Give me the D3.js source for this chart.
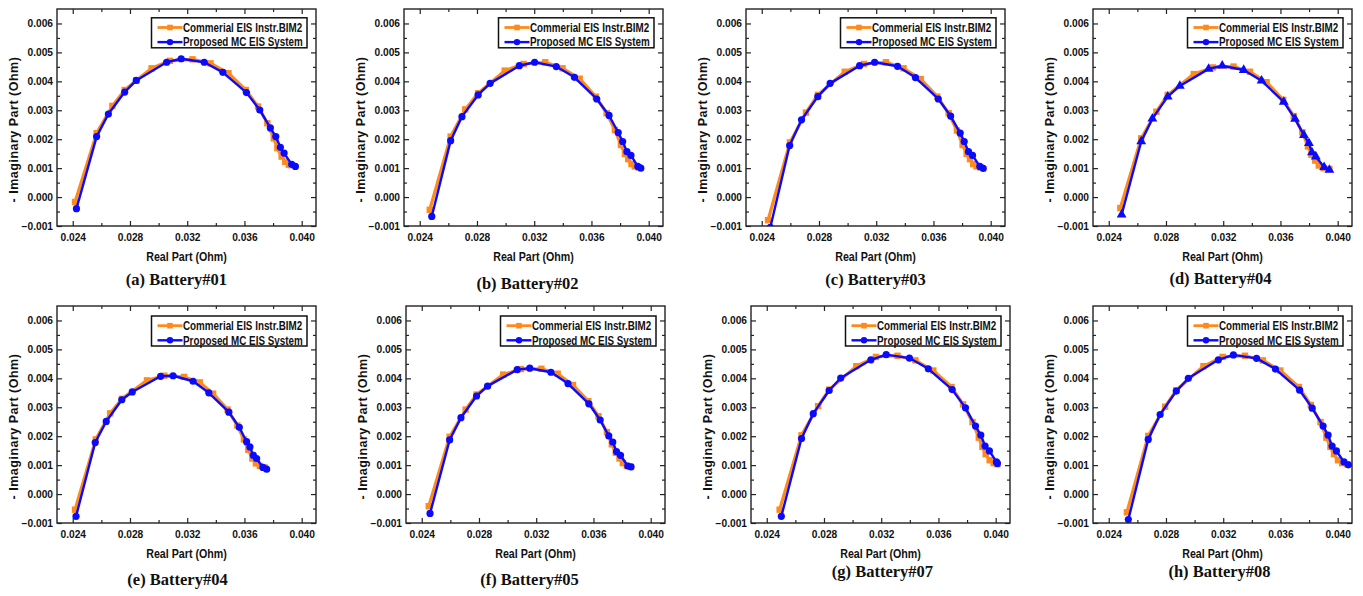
<!DOCTYPE html>
<html><head><meta charset="utf-8">
<script src="https://cdn.jsdelivr.net/npm/d3@7"></script>
<style>body{margin:0;background:#fff}svg{display:block}</style>
</head><body>
<svg id="chart" width="1363" height="596"></svg>
<script>
const xTicks = [0.024, 0.028, 0.032, 0.036, 0.040];
const xMinor = [0.026, 0.030, 0.034, 0.038];
const yTicks = [-0.001, 0.000, 0.001, 0.002, 0.003, 0.004, 0.005, 0.006];
const yMinor = [-0.0005, 0.0005, 0.0015, 0.0025, 0.0035, 0.0045, 0.0055];
const seriesNames = ["Commerial EIS Instr.BIM2", "Proposed MC EIS System"];
const panelLabels = ["(a) Battery#01","(b) Battery#02","(c) Battery#03","(d) Battery#04","(e) Battery#04","(f) Battery#05","(g) Battery#07","(h) Battery#08"];
const xTitle = "Real Part (Ohm)";
const yTitle = "- Imaginary Part (Ohm)";

const commA = [[0.02416,-0.00017],[0.02567,0.00221],[0.02677,0.00315],[0.02763,0.00370],[0.02844,0.00403],[0.02951,0.00445],[0.03079,0.00471],[0.03237,0.00476],[0.03363,0.00462],[0.03488,0.00428],[0.03609,0.00370],[0.03695,0.00313],[0.03760,0.00255],[0.03805,0.00203],[0.03830,0.00169],[0.03860,0.00140],[0.03885,0.00122],[0.03910,0.00112],[0.03928,0.00110]];
const propA = [[0.02426,-0.00040],[0.02567,0.00209],[0.02649,0.00287],[0.02763,0.00363],[0.02844,0.00403],[0.03056,0.00466],[0.03158,0.00478],[0.03319,0.00466],[0.03449,0.00431],[0.03614,0.00361],[0.03707,0.00301],[0.03781,0.00239],[0.03819,0.00209],[0.03851,0.00172],[0.03877,0.00152],[0.03930,0.00113],[0.03956,0.00106]];
const commB = [[0.02470,-0.00044],[0.02616,0.00209],[0.02718,0.00303],[0.02808,0.00359],[0.02994,0.00437],[0.03126,0.00460],[0.03277,0.00466],[0.03398,0.00445],[0.03518,0.00409],[0.03630,0.00347],[0.03706,0.00290],[0.03764,0.00232],[0.03806,0.00180],[0.03834,0.00149],[0.03857,0.00131],[0.03880,0.00114],[0.03903,0.00106],[0.03931,0.00102]];
const propB = [[0.02484,-0.00067],[0.02616,0.00195],[0.02695,0.00278],[0.02808,0.00353],[0.02892,0.00393],[0.03096,0.00454],[0.03203,0.00466],[0.03354,0.00451],[0.03481,0.00414],[0.03637,0.00339],[0.03723,0.00282],[0.03787,0.00223],[0.03818,0.00192],[0.03848,0.00157],[0.03876,0.00144],[0.03924,0.00106],[0.03945,0.00100]];
const commC = [[0.02444,-0.00080],[0.02597,0.00189],[0.02709,0.00292],[0.02792,0.00353],[0.02980,0.00433],[0.03115,0.00460],[0.03268,0.00466],[0.03391,0.00445],[0.03511,0.00408],[0.03627,0.00347],[0.03706,0.00290],[0.03764,0.00230],[0.03804,0.00180],[0.03832,0.00149],[0.03855,0.00131],[0.03878,0.00114],[0.03901,0.00106],[0.03929,0.00102]];
const propC = [[0.02460,-0.00105],[0.02595,0.00178],[0.02678,0.00267],[0.02792,0.00347],[0.02878,0.00393],[0.03084,0.00454],[0.03189,0.00466],[0.03349,0.00452],[0.03474,0.00413],[0.03634,0.00339],[0.03720,0.00280],[0.03787,0.00221],[0.03815,0.00192],[0.03845,0.00157],[0.03873,0.00144],[0.03924,0.00106],[0.03948,0.00099]];
const commD = [[0.02481,-0.00038],[0.02627,0.00203],[0.02733,0.00295],[0.02812,0.00353],[0.02994,0.00425],[0.03128,0.00448],[0.03272,0.00451],[0.03387,0.00433],[0.03503,0.00397],[0.03619,0.00336],[0.03693,0.00280],[0.03753,0.00224],[0.03792,0.00175],[0.03817,0.00146],[0.03843,0.00126],[0.03868,0.00109],[0.03901,0.00100],[0.03942,0.00097]];
const propD = [[0.02490,-0.00061],[0.02627,0.00192],[0.02705,0.00271],[0.02812,0.00347],[0.02897,0.00384],[0.03098,0.00443],[0.03193,0.00454],[0.03343,0.00439],[0.03468,0.00402],[0.03623,0.00329],[0.03702,0.00270],[0.03764,0.00214],[0.03799,0.00186],[0.03820,0.00154],[0.03847,0.00140],[0.03905,0.00103],[0.03942,0.00094]];
const commE = [[0.02416,-0.00054],[0.02561,0.00189],[0.02662,0.00279],[0.02743,0.00329],[0.02919,0.00393],[0.03040,0.00409],[0.03178,0.00405],[0.03288,0.00386],[0.03381,0.00347],[0.03482,0.00292],[0.03550,0.00237],[0.03596,0.00189],[0.03627,0.00153],[0.03655,0.00123],[0.03680,0.00106],[0.03708,0.00097],[0.03741,0.00092]];
const propE = [[0.02423,-0.00077],[0.02557,0.00178],[0.02634,0.00251],[0.02743,0.00326],[0.02816,0.00353],[0.03014,0.00407],[0.03101,0.00409],[0.03241,0.00390],[0.03351,0.00350],[0.03491,0.00283],[0.03564,0.00231],[0.03615,0.00181],[0.03638,0.00163],[0.03662,0.00134],[0.03685,0.00123],[0.03729,0.00092],[0.03755,0.00086]];
const commF = [[0.02449,-0.00042],[0.02595,0.00198],[0.02707,0.00292],[0.02783,0.00344],[0.02969,0.00413],[0.03092,0.00432],[0.03236,0.00433],[0.03350,0.00416],[0.03457,0.00377],[0.03564,0.00321],[0.03635,0.00269],[0.03694,0.00214],[0.03728,0.00172],[0.03756,0.00143],[0.03782,0.00123],[0.03805,0.00107],[0.03833,0.00097],[0.03861,0.00094]];
const propF = [[0.02458,-0.00067],[0.02595,0.00187],[0.02674,0.00264],[0.02783,0.00339],[0.02860,0.00373],[0.03067,0.00430],[0.03155,0.00435],[0.03303,0.00421],[0.03422,0.00382],[0.03568,0.00312],[0.03647,0.00256],[0.03707,0.00201],[0.03735,0.00180],[0.03761,0.00147],[0.03789,0.00134],[0.03840,0.00097],[0.03863,0.00094]];
const commG = [[0.02490,-0.00054],[0.02643,0.00203],[0.02759,0.00304],[0.02836,0.00361],[0.03026,0.00442],[0.03163,0.00474],[0.03314,0.00478],[0.03439,0.00462],[0.03564,0.00427],[0.03691,0.00370],[0.03772,0.00310],[0.03838,0.00249],[0.03882,0.00195],[0.03907,0.00163],[0.03930,0.00138],[0.03958,0.00117],[0.03986,0.00107],[0.04012,0.00103]];
const propG = [[0.02502,-0.00077],[0.02643,0.00192],[0.02725,0.00278],[0.02836,0.00358],[0.02917,0.00401],[0.03128,0.00464],[0.03235,0.00482],[0.03397,0.00470],[0.03529,0.00433],[0.03696,0.00361],[0.03789,0.00298],[0.03859,0.00235],[0.03896,0.00204],[0.03926,0.00166],[0.03956,0.00149],[0.04005,0.00111],[0.04012,0.00106]];
const commH = [[0.02527,-0.00063],[0.02676,0.00201],[0.02794,0.00302],[0.02872,0.00359],[0.03062,0.00442],[0.03196,0.00474],[0.03352,0.00478],[0.03477,0.00462],[0.03599,0.00427],[0.03729,0.00370],[0.03812,0.00308],[0.03880,0.00249],[0.03921,0.00195],[0.03949,0.00163],[0.03974,0.00138],[0.04002,0.00117],[0.04032,0.00107],[0.04067,0.00103]];
const propH = [[0.02537,-0.00088],[0.02676,0.00189],[0.02759,0.00275],[0.02872,0.00356],[0.02956,0.00400],[0.03166,0.00464],[0.03271,0.00481],[0.03433,0.00469],[0.03565,0.00432],[0.03734,0.00359],[0.03822,0.00297],[0.03898,0.00235],[0.03933,0.00204],[0.03961,0.00166],[0.03991,0.00149],[0.04044,0.00111],[0.04074,0.00101]];

const commercial = [commA, commB, commC, commD, commE, commF, commG, commH];
const proposed = [propA, propB, propC, propD, propE, propF, propG, propH];
const proposedMarker = ["circle","circle","circle","triangle","circle","circle","circle","circle"];

// layout
const W = 259, H = 217;
const layout = [
  {x:57,  y:9,   cdx:-10, cdy:59},
  {x:404, y:9,   cdx:-6,  cdy:63},
  {x:746, y:9,   cdx:0,   cdy:59},
  {x:1093,y:9,   cdx:-2,  cdy:58},
  {x:57,  y:306, cdx:-9,  cdy:62},
  {x:406, y:306, cdx:-6,  cdy:62},
  {x:751, y:306, cdx:2,   cdy:54},
  {x:1093,y:306, cdx:-3,  cdy:54}
];
const ORANGE = "#FF8A1C", BLUE = "#0A0AFF", AXIS = "#222";
const sans = "'Liberation Sans', Arial, Helvetica, sans-serif";
const serif = "'Palatino Linotype','Book Antiqua','Liberation Serif','Times New Roman',serif";

const svg = d3.select("#chart");
const x = d3.scaleLinear().domain([0.0229, 0.041]).range([0, W]);
const y = d3.scaleLinear().domain([-0.001, 0.0065]).range([H, 0]);
const line = d3.line().x(d => x(d[0])).y(d => y(d[1]));

svg.append("defs").append("clipPath").attr("id","clipF")
  .append("rect").attr("x",0).attr("y",0).attr("width",W).attr("height",H);

function styleAxis(g, labels){
  g.select(".domain").remove();
  g.selectAll(".tick line").attr("stroke", AXIS).attr("stroke-width", 1.2);
  g.selectAll("text").attr("font-family", sans).attr("font-weight","bold")
    .attr("font-size", 10.2).attr("fill", "#111");
  if(!labels) g.selectAll("text").remove();
}

layout.forEach((L, i) => {
  const g = svg.append("g").attr("transform", `translate(${L.x},${L.y})`);

  g.append("g").attr("transform",`translate(0,${H})`)
    .call(d3.axisBottom(x).tickValues(xTicks).tickFormat(d3.format(".3f")).tickSize(-5).tickPadding(8))
    .call(a => styleAxis(a, true));
  g.append("g").attr("transform",`translate(0,${H})`)
    .call(d3.axisBottom(x).tickValues(xMinor).tickFormat("").tickSize(-3))
    .call(a => styleAxis(a, false));
  g.append("g")
    .call(d3.axisTop(x).tickValues(xTicks).tickFormat("").tickSize(-5)).call(a => styleAxis(a, false));
  g.append("g")
    .call(d3.axisTop(x).tickValues(xMinor).tickFormat("").tickSize(-3)).call(a => styleAxis(a, false));
  g.append("g")
    .call(d3.axisLeft(y).tickValues(yTicks).tickFormat(d3.format(".3f")).tickSize(-5).tickPadding(4))
    .call(a => styleAxis(a, true));
  g.append("g")
    .call(d3.axisLeft(y).tickValues(yMinor).tickFormat("").tickSize(-3)).call(a => styleAxis(a, false));
  g.append("g").attr("transform",`translate(${W},0)`)
    .call(d3.axisRight(y).tickValues(yTicks).tickFormat("").tickSize(-5)).call(a => styleAxis(a, false));
  g.append("g").attr("transform",`translate(${W},0)`)
    .call(d3.axisRight(y).tickValues(yMinor).tickFormat("").tickSize(-3)).call(a => styleAxis(a, false));

  // data
  const dg = g.append("g").attr("clip-path","url(#clipF)");
  const c = commercial[i], p = proposed[i];
  dg.append("path").datum(c).attr("d", line).attr("fill","none")
    .attr("stroke", ORANGE).attr("stroke-width", 3.2).attr("stroke-linejoin","round");
  dg.selectAll(".sq").data(c).enter().append("rect")
    .attr("x", d => x(d[0]) - 3.2).attr("y", d => y(d[1]) - 3.2)
    .attr("width", 6.4).attr("height", 6.4).attr("fill", ORANGE);
  dg.append("path").datum(p).attr("d", line).attr("fill","none")
    .attr("stroke", BLUE).attr("stroke-width", 2.4).attr("stroke-linejoin","round");
  if (proposedMarker[i] === "triangle") {
    dg.selectAll(".tr").data(p).enter().append("path")
      .attr("d", d3.symbol(d3.symbolTriangle, 42))
      .attr("transform", d => `translate(${x(d[0])},${y(d[1])})`).attr("fill", BLUE);
  } else {
    dg.selectAll(".ci").data(p).enter().append("circle")
      .attr("cx", d => x(d[0])).attr("cy", d => y(d[1])).attr("r", 3.6).attr("fill", BLUE);
  }

  // frame
  g.append("rect").attr("x",0).attr("y",0).attr("width",W).attr("height",H)
    .attr("fill","none").attr("stroke", AXIS).attr("stroke-width",1.4);

  // legend
  const lg = g.append("g").attr("transform", `translate(${W - 164.5},${i < 4 ? 8.8 : 10})`);
  lg.append("rect").attr("x",0).attr("y",0).attr("width",155.5).attr("height",30)
    .attr("fill","#fff").attr("stroke","#111").attr("stroke-width",1.5);
  const rows = [{name: seriesNames[0], col: ORANGE, m:"sq", sw:2.8, yy:9.7},
                {name: seriesNames[1], col: BLUE, m:"ci", sw:2.4, yy:24.3}];
  rows.forEach(r => {
    lg.append("line").attr("x1",6).attr("x2",31).attr("y1",r.yy).attr("y2",r.yy)
      .attr("stroke", r.col).attr("stroke-width", r.sw);
    if (r.m === "sq") lg.append("rect").attr("x",18.5-2.8).attr("y",r.yy-2.8).attr("width",5.6).attr("height",5.6).attr("fill",r.col);
    else lg.append("circle").attr("cx",18.5).attr("cy",r.yy).attr("r",3.2).attr("fill",r.col);
    lg.append("text").attr("transform", `translate(31.5,${r.yy}) scale(0.82,1)`).attr("dy","0.36em")
      .attr("font-family",sans).attr("font-weight","bold").attr("font-size",12)
      .attr("fill","#111").text(r.name);
  });

  // axis titles
  g.append("text").attr("transform", `translate(${W/2},${H + 35}) scale(0.89,1)`).attr("text-anchor","middle")
    .attr("font-family",sans).attr("font-weight","bold").attr("font-size",12)
    .attr("fill","#111").text(xTitle);
  g.append("text").attr("transform", `translate(-39,${H/2 + 12}) rotate(-90)`)
    .attr("text-anchor","middle").attr("font-family",sans).attr("font-weight","bold")
    .attr("font-size",12.5).attr("letter-spacing","0.5px").attr("fill","#111").text(yTitle);

  // caption
  g.append("text").attr("x", W/2 + L.cdx).attr("y", H + L.cdy).attr("text-anchor","middle")
    .attr("font-family",serif).attr("font-weight","bold").attr("font-size",16.5)
    .attr("fill","#111").text(panelLabels[i]);
});
</script>
</body></html>
